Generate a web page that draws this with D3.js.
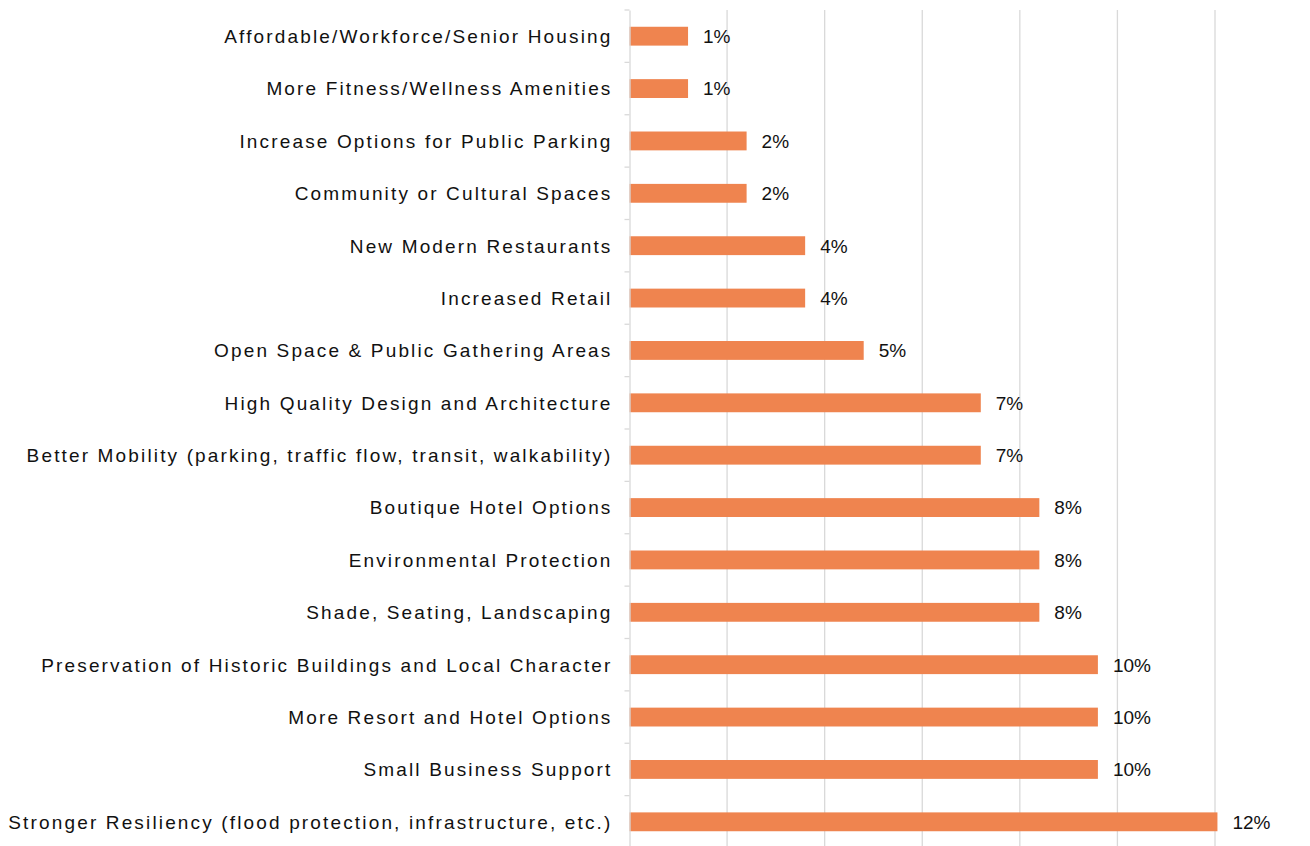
<!DOCTYPE html>
<html lang="en">
<head>
    <meta charset="UTF-8">
    <title>Priorities</title>
    <script src="https://d3js.org/d3.v7.min.js"></script>
    <style>
        body { margin: 0; background: #fff; }
        svg { display: block; font-family: "Liberation Sans", Arial, sans-serif; }
        .cat text { font-size: 19px; letter-spacing: 2.15px; fill: #111; }
        .val { font-size: 19px; fill: #111; }
    </style>
</head>
<body>
<script>
    // categories top to bottom
    const categories = [
        "Affordable/Workforce/Senior Housing",
        "More Fitness/Wellness Amenities",
        "Increase Options for Public Parking",
        "Community or Cultural Spaces",
        "New Modern Restaurants",
        "Increased Retail",
        "Open Space & Public Gathering Areas",
        "High Quality Design and Architecture",
        "Better Mobility (parking, traffic flow, transit, walkability)",
        "Boutique Hotel Options",
        "Environmental Protection",
        "Shade, Seating, Landscaping",
        "Preservation of Historic Buildings and Local Character",
        "More Resort and Hotel Options",
        "Small Business Support",
        "Stronger Resiliency (flood protection, infrastructure, etc.)"
    ];
    // percent values
    const values = [1.2, 1.2, 2.4, 2.4, 3.6, 3.6, 4.8, 7.2, 7.2, 8.4, 8.4, 8.4, 9.6, 9.6, 9.6, 12.05];
    const gridTicks = [0, 2, 4, 6, 8, 10, 12];

    const w = 1310, h = 846;
    const plotLeft = 629.5, plotRight = 1215, plotTop = 10, plotBottom = 848;

    const svg = d3.select("body").append("svg")
        .attr("width", w)
        .attr("height", h);

    const x = d3.scaleLinear().domain([0, 12]).range([plotLeft, plotRight]);
    const y = d3.scaleBand().domain(categories).range([plotTop, plotBottom]).paddingInner(0.64).paddingOuter(0.32);

    // gridlines
    svg.append("g")
        .selectAll("line")
        .data(gridTicks.slice(1))
        .enter()
        .append("line")
        .attr("x1", d => x(d)).attr("x2", d => x(d))
        .attr("y1", plotTop).attr("y2", plotBottom)
        .attr("stroke", "#d9d9d9")
        .attr("stroke-width", 1.3);

    // bars
    svg.append("g")
        .selectAll("rect")
        .data(values)
        .enter()
        .append("rect")
        .attr("x", x(0))
        .attr("y", (d, i) => y(categories[i]))
        .attr("width", d => x(d) - x(0))
        .attr("height", y.bandwidth())
        .attr("fill", "#ef844f");

    // value labels
    const fmt = d3.format(".0%");
    svg.append("g")
        .selectAll("text")
        .data(values)
        .enter()
        .append("text")
        .attr("class", "val")
        .attr("x", d => x(d) + 15)
        .attr("y", (d, i) => y(categories[i]) + y.bandwidth() / 2)
        .attr("dy", "0.36em")
        .text(d => fmt(d / 100));

    // category axis with ticks at band edges
    const yAxis = d3.axisLeft(y).tickSize(0).tickPadding(17);
    const ag = svg.append("g")
        .attr("class", "cat")
        .attr("transform", "translate(" + plotLeft + ",0)")
        .call(yAxis);
    ag.select(".domain").attr("stroke", "#d9d9d9").attr("stroke-width", 1.3);
    ag.selectAll(".tick text").attr("dy", "0.36em");

    const step = y.step();
    ag.selectAll("line.sep")
        .data(d3.range(categories.length + 1))
        .enter()
        .append("line")
        .attr("class", "sep")
        .attr("x1", -5).attr("x2", 0)
        .attr("y1", i => plotTop + i * step).attr("y2", i => plotTop + i * step)
        .attr("stroke", "#d9d9d9")
        .attr("stroke-width", 1.3);
</script>
</body>
</html>
